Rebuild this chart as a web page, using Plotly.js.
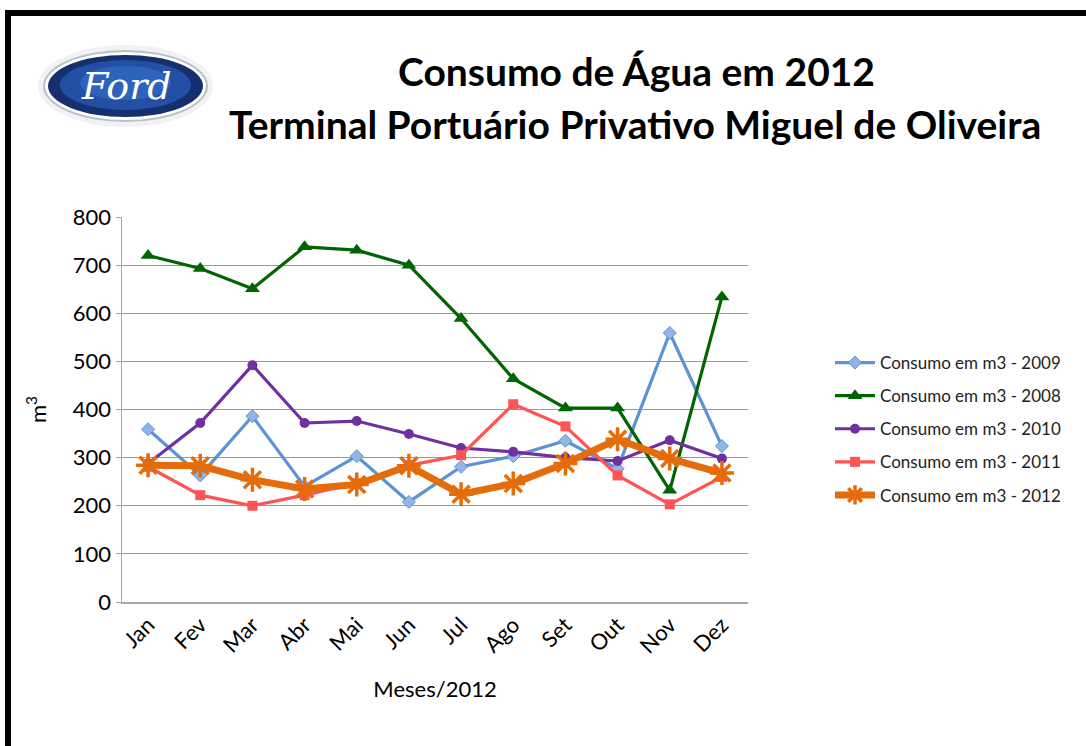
<!DOCTYPE html>
<html>
<head>
<meta charset="utf-8">
<script src="https://cdn.plot.ly/plotly-3.0.1.min.js"></script>
<style>html,body{margin:0;padding:0;background:#fff;}#chart{width:1086px;height:746px;}</style>
</head>
<body>
<div id="chart"></div>
<script>
const meses = ['Jan','Fev','Mar','Abr','Mai','Jun','Jul','Ago','Set','Out','Nov','Dez'];
const c2009 = [359, 263, 386, 240, 303, 208, 281, 303, 335, 277, 559, 324];
const c2008 = [720, 693, 651, 738, 731, 700, 589, 464, 403, 403, 232, 634];
const c2010 = [288, 372, 492, 372, 376, 349, 320, 312, 300, 293, 336, 298];
const c2011 = [281, 222, 200, 222, 247, 284, 305, 411, 365, 263, 203, 260];
const c2012 = [284, 283, 254, 235, 244, 283, 224, 246, 288, 338, 298, 268];
const nomes = ['Consumo em m3 - 2009','Consumo em m3 - 2008','Consumo em m3 - 2010','Consumo em m3 - 2011','Consumo em m3 - 2012'];
const yTicks = [0,100,200,300,400,500,600,700,800];

const FONT = 'Lato, "Open Sans", sans-serif';

const traces = [
  {y: c2009, name: nomes[0], line:{color:'#5b93d5', width:3.2},
   marker:{symbol:'diamond', size:10, color:'#92b6e4', line:{color:'#5b93d5', width:1}}},
  {y: c2008, name: nomes[1], line:{color:'#006400', width:3.2},
   marker:{symbol:'triangle-up', size:13, color:'#006400'}},
  {y: c2010, name: nomes[2], line:{color:'#7030a0', width:3.2},
   marker:{symbol:'circle', size:10, color:'#7030a0'}},
  {y: c2011, name: nomes[3], line:{color:'#ff5454', width:3.2},
   marker:{symbol:'square', size:10, color:'#ff5454'}},
  {y: c2012, name: nomes[4], line:{color:'#e46c0a', width:7},
   marker:{symbol:'asterisk-open', size:20, color:'#e46c0a', line:{color:'#e46c0a', width:3.5}}}
].map((t,i)=>Object.assign({type:'scatter', mode:'lines+markers', x: meses, legendgroup:'g'+i}, t));

function px(x){return (x-122)/626;}
function py(y){return (602-y)/385;}

const shapes = [
  // black frame (left and top)
  {type:'rect', xref:'paper', yref:'paper', x0:px(5), x1:px(11), y0:py(10), y1:py(760), fillcolor:'#000', line:{width:0}, layer:'above'},
  {type:'rect', xref:'paper', yref:'paper', x0:px(5), x1:px(1095), y0:py(10), y1:py(16), fillcolor:'#000', line:{width:0}, layer:'above'},
  // Ford logo
  {type:'circle', xref:'paper', yref:'paper', x0:px(38), x1:px(213), y0:py(45), y1:py(127), fillcolor:'#f1f2f5', line:{width:0}},
  {type:'circle', xref:'paper', yref:'paper', x0:px(43), x1:px(208), y0:py(50), y1:py(122), fillcolor:'#b9bfc9', line:{width:0}},
  {type:'circle', xref:'paper', yref:'paper', x0:px(45), x1:px(206), y0:py(52), y1:py(120), fillcolor:'#ffffff', line:{width:0}},
  {type:'circle', xref:'paper', yref:'paper', x0:px(48), x1:px(203), y0:py(55), y1:py(117), fillcolor:'#16306f', line:{width:0}},
  {type:'circle', xref:'paper', yref:'paper', x0:px(60), x1:px(191), y0:py(60), y1:py(110), fillcolor:'#2350a5', line:{width:0}},
  {type:'circle', xref:'paper', yref:'paper', x0:px(80), x1:px(171), y0:py(66), y1:py(100), fillcolor:'#2d62bd', line:{width:0}}
];

const annotations = [
  {xref:'paper', yref:'paper', x:px(126), y:py(86), text:'Ford', showarrow:false,
   font:{family:'"DejaVu Serif", serif', size:38, color:'#ffffff', style:'italic'}, xanchor:'center', yanchor:'middle'},
  {xref:'paper', yref:'paper', x:px(636), y:py(71), text:'<b>Consumo de Água em 2012</b>', showarrow:false,
   font:{family:FONT, size:39, color:'#000'}, xanchor:'center', yanchor:'middle'},
  {xref:'paper', yref:'paper', x:px(635), y:py(124), text:'<b>Terminal Portuário Privativo Miguel de Oliveira</b>', showarrow:false,
   font:{family:FONT, size:39, color:'#000'}, xanchor:'center', yanchor:'middle'}
];

const layout = {
  width:1086, height:746,
  paper_bgcolor:'#ffffff', plot_bgcolor:'#ffffff',
  margin:{l:122, r:338, t:217, b:144, pad:0},
  showlegend:true,
  legend:{x:px(830), y:py(345), xanchor:'left', yanchor:'top', font:{family:FONT, size:17, color:'#222'},
          itemwidth:40, tracegroupgap:8, bgcolor:'rgba(0,0,0,0)'},
  xaxis:{type:'category', range:[-0.5, 11.5], showgrid:false, showline:true, linecolor:'#a6a6a6', linewidth:1.5,
         ticks:'', tickangle:-45, tickfont:{family:FONT, size:22, color:'#000'},
         title:{text:'Meses/2012', font:{family:FONT, size:22, color:'#000'}, standoff:24}, zeroline:false},
  yaxis:{range:[0,800], tickvals:yTicks, ticktext:yTicks.map(String), showgrid:true, gridcolor:'#9a9a9a', gridwidth:1,
         showline:true, linecolor:'#a6a6a6', linewidth:1.5, ticks:'outside', ticklen:5, tickcolor:'#a6a6a6',
         tickfont:{family:FONT, size:22, color:'#000'}, zeroline:false,
         title:{text:'m<sup>3</sup>', font:{family:FONT, size:22, color:'#000'}, standoff:20}},
  shapes: shapes,
  annotations: annotations
};

Plotly.newPlot('chart', traces, layout, {displayModeBar:false, staticPlot:true});
</script>
</body>
</html>
